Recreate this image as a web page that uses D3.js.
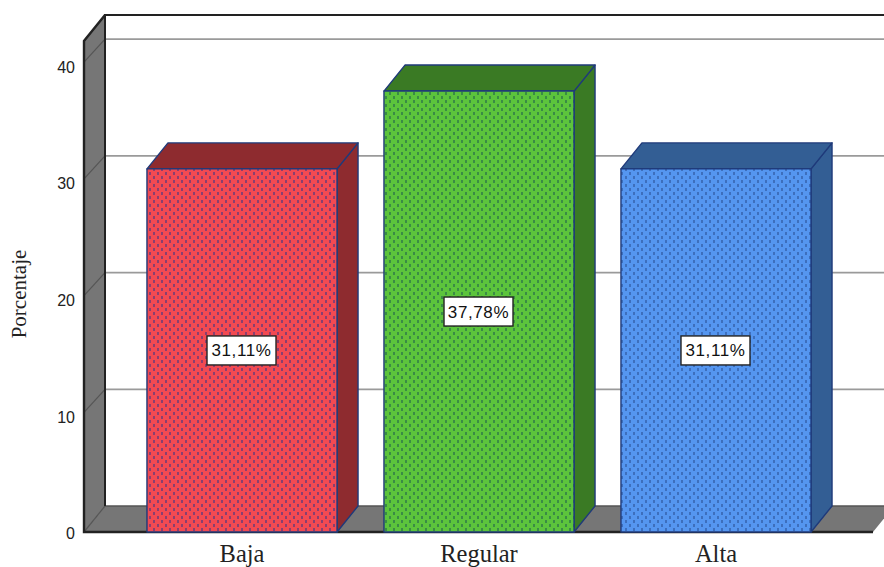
<!DOCTYPE html>
<html><head><meta charset="utf-8">
<script src="https://cdn.jsdelivr.net/npm/d3@7/dist/d3.min.js"></script>
<style>html,body{margin:0;background:#fff;overflow:hidden}svg{display:block}</style>
</head><body><svg id="c" width="884" height="567"></svg>
<script>
// Nivel por categoría, en porcentaje
const categories = ["Baja", "Regular", "Alta"];
const values = [31.11, 37.78, 31.11];
const valueLabels = ["31,11%", "37,78%", "31,11%"];
const yTicks = [0, 10, 20, 30, 40];
const yTop = 42.07;
const frontColors = ["#f24a52", "#5cc43c", "#5596f0"];
const dotColors = ["#8a3f70", "#3a8c45", "#3d6fbd"];
const sideColors = ["#8e2b2f", "#3a7a24", "#335e94"];

const svg = d3.select("#c");
const dx = 21, dy = 26;                // oblique depth of the 3D box
const y = d3.scaleLinear().domain([0, yTop]).range([532, 41]);
const x = d3.scaleBand().domain(categories).range([110, 848]).paddingInner(0.198).paddingOuter(0.156);
const grey = "#767676", ink = "#222", edge = "#1f3a7a";

// Staggered dot fill for the bar fronts
const defs = svg.append("defs");
categories.forEach((c, i) => {
  const p = defs.append("pattern").attr("id", "dots" + i).attr("patternUnits", "userSpaceOnUse")
    .attr("width", 8).attr("height", 8);
  p.append("rect").attr("width", 8).attr("height", 8).attr("fill", frontColors[i]);
  [[1, 0], [5, 4]].forEach(([a, b]) => p.append("rect").attr("x", a).attr("y", b)
    .attr("width", 2).attr("height", 3).attr("fill", dotColors[i]));
});

const path = pts => "M" + pts.map(p => p.join(",")).join("L") + "Z";
const x0 = 84, xEnd = 873, y0 = y(0), yT = y(yTop);

// Back wall gridlines
svg.append("g").selectAll("line").data(yTicks.filter(t => t > 0)).join("line")
  .attr("x1", x0 + dx).attr("x2", 884).attr("y1", d => y(d) - dy).attr("y2", d => y(d) - dy)
  .attr("stroke", "#9a9a9a").attr("stroke-width", 1.8);

// Floor
svg.append("path").attr("d", path([[x0, y0], [x0 + dx, y0 - dy], [xEnd + dx, y0 - dy], [xEnd, y0]]))
  .attr("fill", grey);
svg.append("line").attr("x1", x0 + dx).attr("x2", 884).attr("y1", y0 - dy).attr("y2", y0 - dy)
  .attr("stroke", "#555").attr("stroke-width", 1.5);

// Left wall
svg.append("path").attr("d", path([[x0, y0], [x0, yT], [x0 + dx, yT - dy], [x0 + dx, y0 - dy]]))
  .attr("fill", grey);
svg.append("g").selectAll("line").data(yTicks.filter(t => t > 0)).join("line")
  .attr("x1", x0).attr("x2", x0 + dx).attr("y1", d => y(d) - 3).attr("y2", d => y(d) - dy)
  .attr("stroke", "#555").attr("stroke-width", 1.2);
svg.append("line").attr("x1", x0).attr("x2", x0 + dx).attr("y1", y0).attr("y2", y0 - dy)
  .attr("stroke", "#555").attr("stroke-width", 1.2);

// Wall and floor outlines
svg.append("path").attr("fill", "none").attr("stroke", ink).attr("stroke-width", 2)
  .attr("d", `M${x0 + dx},${y0 - dy}V${yT - dy}H884`);
svg.append("path").attr("fill", "none").attr("stroke", ink).attr("stroke-width", 2.4)
  .attr("d", `M${x0 + dx},${yT - dy}L${x0},${yT}V${y0}H${xEnd}`);

// Bars: side, top and dotted front
const bars = svg.append("g").selectAll("g").data(categories).join("g");
bars.each(function (c, i) {
  const g = d3.select(this), l = x(c), r = l + x.bandwidth(), t = y(values[i]);
  const st = { stroke: edge, "stroke-width": 1.4, "stroke-linejoin": "round" };
  const add = (d, f) => { const e = g.append("path").attr("d", d).attr("fill", f);
    Object.entries(st).forEach(([k, v]) => e.attr(k, v)); };
  add(path([[r, y0], [r, t], [r + dx, t - dy], [r + dx, y0 - dy]]), sideColors[i]);
  add(path([[l, t], [l + dx, t - dy], [r + dx, t - dy], [r, t]]), sideColors[i]);
  add(path([[l, t], [r, t], [r, y0], [l, y0]]), `url(#dots${i})`);
  // Value box centred on the bar front
  const cy = y(values[i] / 2), cx = (l + r) / 2 - 0.5;
  g.append("rect").attr("x", cx - 34.5).attr("y", cy - 14.5).attr("width", 69).attr("height", 29)
    .attr("fill", "#fff").attr("stroke", "#222").attr("stroke-width", 1.4);
  g.append("text").attr("x", cx).attr("y", cy + 6).attr("text-anchor", "middle")
    .attr("font-family", "Liberation Sans").attr("font-size", 17).attr("letter-spacing", 0.6)
    .attr("fill", "#111").text(valueLabels[i]);
});

// Value axis labels
const axis = svg.append("g").attr("transform", `translate(${x0},0)`)
  .call(d3.axisLeft(y).tickValues(yTicks).tickSize(0).tickPadding(9));
axis.select(".domain").remove();
axis.selectAll("text").attr("font-family", "Liberation Sans").attr("font-size", 16).attr("fill", "#222")
  .attr("dy", "0.68em").attr("transform", "translate(0,-4)");

// Category axis labels
const xAxis = svg.append("g").attr("transform", `translate(0,${y0})`)
  .call(d3.axisBottom(x).tickSize(0).tickPadding(13));
xAxis.select(".domain").remove();
xAxis.selectAll("text").attr("font-family", "Liberation Serif").attr("font-size", 24.5).attr("fill", "#222");

svg.append("text").attr("transform", "translate(26,294) rotate(-90)").attr("text-anchor", "middle")
  .attr("font-family", "Liberation Serif").attr("font-size", 21).attr("fill", "#222").text("Porcentaje");
</script></body></html>
